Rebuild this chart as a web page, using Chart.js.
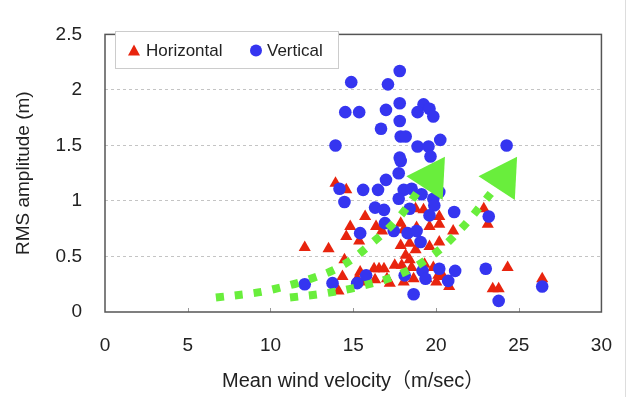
<!DOCTYPE html>
<html>
<head>
<meta charset="utf-8">
<script src="https://cdn.jsdelivr.net/npm/chart.js@4"></script>
<style>
html,body{margin:0;padding:0;background:#fff;}
canvas{display:block;}
</style>
</head>
<body>
<canvas id="c" width="634" height="397"></canvas>
<script>
// ---- data ----
const xTickLabels = ['0','5','10','15','20','25','30'];
const yTickLabels = ['0','0.5','1','1.5','2','2.5'];
const seriesNames = ['Horizontal','Vertical'];

const horizontalX = [13.93,14.58,15.72,12.07,13.51,14.82,14.58,15.36,16.38,16.74,17.87,18.05,18.41,17.87,18.17,18.41,18.77,19.61,20.20,20.20,19.61,20.20,21.04,18.77,19.25,14.47,15.42,16.26,16.86,17.51,17.93,18.53,19.31,19.84,20.14,19.43,18.65,18.05,14.35,14.11,15.72,16.32,17.04,17.21,20.80,20.02,20.44,15.24,22.89,23.13,23.43,23.79,24.33,26.42,18.83,16.56];
const horizontalY = [1.16,1.10,0.86,0.58,0.57,0.77,0.68,0.64,0.77,0.73,0.80,0.74,0.62,0.60,0.51,0.47,0.56,0.77,0.79,0.86,0.59,0.63,0.73,0.93,0.92,0.47,0.36,0.39,0.39,0.42,0.42,0.40,0.43,0.40,0.33,0.30,0.30,0.27,0.32,0.19,0.27,0.29,0.30,0.26,0.23,0.27,0.32,0.30,0.93,0.79,0.21,0.21,0.40,0.30,0.76,0.39];

const verticalX = [17.81,14.88,17.10,14.52,15.36,16.98,17.81,19.25,19.61,18.89,19.84,17.81,16.68,17.87,18.17,20.26,13.93,18.89,19.55,19.67,17.81,17.87,17.75,16.98,14.17,15.60,16.50,18.05,18.53,20.20,19.13,19.84,14.47,16.32,16.86,17.75,18.41,19.90,19.61,21.10,16.92,17.45,15.42,18.29,18.83,19.07,12.07,13.75,15.24,15.78,18.11,19.19,19.37,20.20,21.16,20.74,18.65,24.27,23.19,23.01,23.79,26.42];
const verticalY = [2.17,2.07,2.05,1.80,1.80,1.82,1.88,1.87,1.83,1.80,1.76,1.72,1.65,1.58,1.58,1.55,1.50,1.49,1.49,1.40,1.39,1.36,1.25,1.19,1.11,1.10,1.10,1.10,1.11,1.08,1.06,1.02,0.99,0.94,0.92,1.02,0.93,0.96,0.87,0.90,0.80,0.73,0.71,0.71,0.73,0.63,0.25,0.26,0.26,0.33,0.33,0.37,0.30,0.39,0.37,0.28,0.16,1.50,0.86,0.39,0.10,0.23];

// annotation trend arrows (green dotted)
const trendUpperX = [6.7,8.97,10.04,12.25,14.35,16.2,17.81,19.01];
const trendUpperY = [0.13,0.17,0.20,0.29,0.42,0.63,0.86,1.11];
const trendLowerX = [11.18,13.39,15.66,17.81,19.78,21.46,22.89,23.49];
const trendLowerY = [0.13,0.17,0.24,0.34,0.51,0.74,0.99,1.10];
const arrowHeadX = [19.72,24.08];
const arrowHeadY = [1.21,1.21];

const zip = (xs, ys) => xs.map((x, i) => ({x: x, y: ys[i]}));

const RED = '#e8240e';
const BLUE = '#3535f0';
const GREEN = '#69ee3c';
const FONT = "'Liberation Sans', Arial, 'Noto Sans CJK JP', sans-serif";

const decor = {
  id: 'decor',
  beforeDatasetsDraw(chart) {
    const {ctx, chartArea: a, scales: {x}} = chart;
    ctx.save();
    ctx.strokeStyle = '#9a9a9a';
    ctx.lineWidth = 1;
    for (let v = 5; v < 30; v += 5) {
      const px = Math.round(x.getPixelForValue(v)) + 0.5;
      ctx.beginPath();
      ctx.moveTo(px, a.bottom);
      ctx.lineTo(px, a.bottom - 4);
      ctx.stroke();
    }
    ctx.restore();
  },
  afterDraw(chart) {
    const {ctx, chartArea: a} = chart;
    ctx.save();
    // plot frame
    ctx.strokeStyle = '#555';
    ctx.lineWidth = 1.5;
    ctx.strokeRect(a.left, a.top, a.right - a.left, a.bottom - a.top);
    // outer light line
    ctx.strokeStyle = '#dddddd';
    ctx.lineWidth = 1;
    ctx.beginPath();
    ctx.moveTo(625.5, 0);
    ctx.lineTo(625.5, 397);
    ctx.stroke();
    // legend box
    const lx = 115.5, ly = 31.5, lw = 223, lh = 37;
    ctx.fillStyle = '#fff';
    ctx.fillRect(lx, ly, lw, lh);
    ctx.strokeStyle = '#cccccc';
    ctx.strokeRect(lx, ly, lw, lh);
    const cy = ly + lh / 2 + 0.5;
    ctx.fillStyle = RED;
    ctx.beginPath();
    ctx.moveTo(134, cy - 6);
    ctx.lineTo(140, cy + 5);
    ctx.lineTo(128, cy + 5);
    ctx.closePath();
    ctx.fill();
    ctx.fillStyle = BLUE;
    ctx.beginPath();
    ctx.arc(256, cy, 6, 0, Math.PI * 2);
    ctx.fill();
    ctx.fillStyle = '#222';
    ctx.font = '17px ' + FONT;
    ctx.textBaseline = 'middle';
    ctx.textAlign = 'left';
    ctx.fillText(seriesNames[0], 146, cy + 1);
    ctx.fillText(seriesNames[1], 267, cy + 1);
    ctx.restore();
  }
};

const trendStyle = {
  type: 'scatter',
  showLine: true,
  borderColor: GREEN,
  borderWidth: 8,
  borderDash: [8, 11],
  borderCapStyle: 'butt',
  pointRadius: 0,
  pointHoverRadius: 0,
  tension: 0.4,
  fill: false,
  order: 0
};

new Chart(document.getElementById('c'), {
  type: 'scatter',
  data: {
    datasets: [
      Object.assign({label: 'trend1', data: zip(trendUpperX, trendUpperY)}, trendStyle),
      Object.assign({label: 'trend2', data: zip(trendLowerX, trendLowerY)}, trendStyle),
      {
        label: 'arrows',
        data: zip(arrowHeadX, arrowHeadY),
        pointStyle: 'triangle',
        pointRadius: 25,
        pointHoverRadius: 25,
        rotation: 33,
        backgroundColor: GREEN,
        borderWidth: 0,
        order: 0
      },
      {
        label: seriesNames[1],
        data: zip(verticalX, verticalY),
        pointStyle: 'circle',
        pointRadius: 6.3,
        pointHoverRadius: 6.3,
        backgroundColor: BLUE,
        borderWidth: 0,
        order: 1
      },
      {
        label: seriesNames[0],
        data: zip(horizontalX, horizontalY),
        pointStyle: 'triangle',
        pointRadius: 7,
        pointHoverRadius: 7,
        backgroundColor: RED,
        borderWidth: 0,
        order: 2
      }
    ]
  },
  options: {
    responsive: false,
    animation: false,
    devicePixelRatio: 1,
    events: [],
    layout: {padding: {top: 20, right: 27, left: 0, bottom: 0}},
    plugins: {legend: {display: false}, tooltip: {enabled: false}},
    scales: {
      x: {
        type: 'linear',
        min: 0, max: 30,
        afterFit(s) { s.height = 85; },
        border: {display: false},
        grid: {display: false, drawTicks: false},
        ticks: {
          stepSize: 5,
          padding: 22,
          color: '#222',
          font: {family: FONT, size: 19},
          callback: (v, i) => xTickLabels[i]
        },
        title: {
          display: true,
          text: 'Mean wind velocity（m/sec）',
          color: '#222',
          font: {family: FONT, size: 20},
          padding: {top: 0, bottom: 4}
        }
      },
      y: {
        type: 'linear',
        min: 0, max: 2.5,
        afterFit(s) { s.width = 105; },
        border: {display: false, dash: [3, 3]},
        grid: {
          drawTicks: false,
          lineWidth: 1,
          color: (c) => (c.tick && (c.tick.value === 0 || c.tick.value === 2.5)) ? 'rgba(0,0,0,0)' : '#c4c4c4'
        },
        ticks: {
          stepSize: 0.5,
          padding: 23,
          color: '#222',
          font: {family: FONT, size: 19},
          callback: (v, i) => yTickLabels[i]
        },
        title: {
          display: true,
          text: 'RMS amplitude (m)',
          color: '#222',
          font: {family: FONT, size: 19},
          padding: {top: 12, bottom: 0}
        }
      }
    }
  },
  plugins: [decor]
});
</script>
</body>
</html>
